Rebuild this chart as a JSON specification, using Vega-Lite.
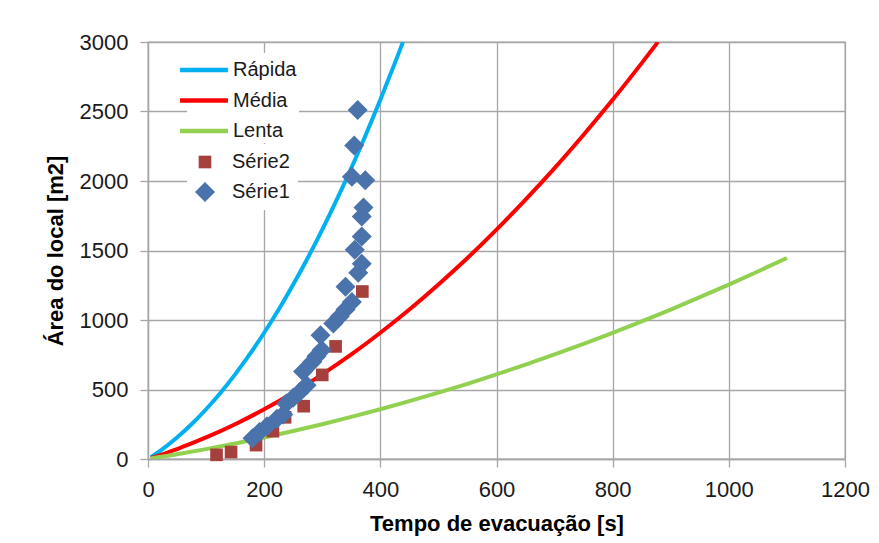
{
  "$schema": "https://vega.github.io/schema/vega-lite/v6.json",
  "width": 697,
  "height": 417,
  "autosize": "none",
  "padding": {"left": 148, "top": 42, "right": 34, "bottom": 84},
  "background": "white",
  "config": {
    "view": {"stroke": "#a6a6a6", "strokeWidth": 1.3},
    "font": "Liberation Sans",
    "axis": {
      "gridColor": "#a6a6a6",
      "gridWidth": 1.3,
      "domainColor": "#a6a6a6",
      "domainWidth": 1.3,
      "tickColor": "#a6a6a6",
      "tickWidth": 1.3,
      "tickSize": 8,
      "labelFont": "Liberation Sans",
      "labelFontSize": 22,
      "labelColor": "#1a1a1a",
      "titleFont": "Liberation Sans",
      "titleFontSize": 22,
      "titleFontWeight": "bold",
      "titleColor": "#000000"
    },
    "legend": {"labelFont": "Liberation Sans", "labelFontSize": 20, "labelColor": "#1a1a1a"}
  },
  "datasets": {
    "curves": [
      {"s": "Rápida", "t": 5, "a": 13},
      {"s": "Rápida", "t": 10, "a": 27},
      {"s": "Rápida", "t": 25, "a": 71},
      {"s": "Rápida", "t": 50, "a": 155},
      {"s": "Rápida", "t": 75, "a": 250},
      {"s": "Rápida", "t": 100, "a": 358},
      {"s": "Rápida", "t": 125, "a": 477},
      {"s": "Rápida", "t": 150, "a": 609},
      {"s": "Rápida", "t": 175, "a": 752},
      {"s": "Rápida", "t": 200, "a": 908},
      {"s": "Rápida", "t": 225, "a": 1075},
      {"s": "Rápida", "t": 250, "a": 1255},
      {"s": "Rápida", "t": 275, "a": 1446},
      {"s": "Rápida", "t": 300, "a": 1650},
      {"s": "Rápida", "t": 325, "a": 1866},
      {"s": "Rápida", "t": 350, "a": 2093},
      {"s": "Rápida", "t": 375, "a": 2333},
      {"s": "Rápida", "t": 400, "a": 2584},
      {"s": "Rápida", "t": 425, "a": 2848},
      {"s": "Rápida", "t": 439, "a": 3000},
      {"s": "Média", "t": 5, "a": 7},
      {"s": "Média", "t": 10, "a": 13},
      {"s": "Média", "t": 25, "a": 34},
      {"s": "Média", "t": 50, "a": 71},
      {"s": "Média", "t": 75, "a": 112},
      {"s": "Média", "t": 100, "a": 155},
      {"s": "Média", "t": 150, "a": 250},
      {"s": "Média", "t": 200, "a": 358},
      {"s": "Média", "t": 250, "a": 477},
      {"s": "Média", "t": 300, "a": 609},
      {"s": "Média", "t": 350, "a": 752},
      {"s": "Média", "t": 400, "a": 908},
      {"s": "Média", "t": 450, "a": 1075},
      {"s": "Média", "t": 500, "a": 1255},
      {"s": "Média", "t": 550, "a": 1446},
      {"s": "Média", "t": 600, "a": 1650},
      {"s": "Média", "t": 650, "a": 1866},
      {"s": "Média", "t": 700, "a": 2093},
      {"s": "Média", "t": 750, "a": 2333},
      {"s": "Média", "t": 800, "a": 2584},
      {"s": "Média", "t": 850, "a": 2848},
      {"s": "Média", "t": 878, "a": 3000},
      {"s": "Lenta", "t": 5, "a": 3},
      {"s": "Lenta", "t": 10, "a": 7},
      {"s": "Lenta", "t": 50, "a": 34},
      {"s": "Lenta", "t": 100, "a": 71},
      {"s": "Lenta", "t": 150, "a": 112},
      {"s": "Lenta", "t": 200, "a": 155},
      {"s": "Lenta", "t": 250, "a": 201},
      {"s": "Lenta", "t": 300, "a": 250},
      {"s": "Lenta", "t": 350, "a": 303},
      {"s": "Lenta", "t": 400, "a": 358},
      {"s": "Lenta", "t": 450, "a": 416},
      {"s": "Lenta", "t": 500, "a": 477},
      {"s": "Lenta", "t": 550, "a": 541},
      {"s": "Lenta", "t": 600, "a": 609},
      {"s": "Lenta", "t": 650, "a": 679},
      {"s": "Lenta", "t": 700, "a": 752},
      {"s": "Lenta", "t": 750, "a": 828},
      {"s": "Lenta", "t": 800, "a": 908},
      {"s": "Lenta", "t": 850, "a": 990},
      {"s": "Lenta", "t": 900, "a": 1075},
      {"s": "Lenta", "t": 950, "a": 1164},
      {"s": "Lenta", "t": 1000, "a": 1255},
      {"s": "Lenta", "t": 1050, "a": 1349},
      {"s": "Lenta", "t": 1100, "a": 1446}
    ],
    "points": [
      {"s": "Série2", "t": 118, "a": 30},
      {"s": "Série2", "t": 143, "a": 50},
      {"s": "Série2", "t": 186, "a": 100},
      {"s": "Série2", "t": 215, "a": 200},
      {"s": "Série2", "t": 236, "a": 300},
      {"s": "Série2", "t": 268, "a": 380},
      {"s": "Série2", "t": 300, "a": 605},
      {"s": "Série2", "t": 323, "a": 810},
      {"s": "Série2", "t": 369, "a": 1205},
      {"s": "Série1", "t": 180, "a": 150},
      {"s": "Série1", "t": 192, "a": 195},
      {"s": "Série1", "t": 205, "a": 235},
      {"s": "Série1", "t": 222, "a": 290},
      {"s": "Série1", "t": 233, "a": 320},
      {"s": "Série1", "t": 238, "a": 400},
      {"s": "Série1", "t": 250, "a": 440},
      {"s": "Série1", "t": 262, "a": 485},
      {"s": "Série1", "t": 273, "a": 530},
      {"s": "Série1", "t": 267, "a": 630},
      {"s": "Série1", "t": 283, "a": 700},
      {"s": "Série1", "t": 290, "a": 740},
      {"s": "Série1", "t": 299, "a": 785},
      {"s": "Série1", "t": 297, "a": 890},
      {"s": "Série1", "t": 319, "a": 975},
      {"s": "Série1", "t": 330, "a": 1025},
      {"s": "Série1", "t": 340, "a": 1075},
      {"s": "Série1", "t": 351, "a": 1130},
      {"s": "Série1", "t": 340, "a": 1240},
      {"s": "Série1", "t": 362, "a": 1340},
      {"s": "Série1", "t": 368, "a": 1405},
      {"s": "Série1", "t": 356, "a": 1505},
      {"s": "Série1", "t": 368, "a": 1600},
      {"s": "Série1", "t": 368, "a": 1745},
      {"s": "Série1", "t": 371, "a": 1810},
      {"s": "Série1", "t": 351, "a": 2030},
      {"s": "Série1", "t": 374, "a": 2005},
      {"s": "Série1", "t": 355, "a": 2255},
      {"s": "Série1", "t": 361, "a": 2510}
    ]
  },
  "encoding": {
    "x": {
      "field": "t", "type": "quantitative",
      "scale": {"domain": [0, 1200], "nice": false},
      "axis": {"title": "Tempo de evacuação [s]", "format": "d", "values": [0, 200, 400, 600, 800, 1000, 1200], "labelFlush": false, "labelPadding": 12, "titlePadding": 13}
    },
    "y": {
      "field": "a", "type": "quantitative",
      "scale": {"domain": [0, 3000], "nice": false},
      "axis": {"title": "Área do local [m2]", "format": "d", "values": [0, 500, 1000, 1500, 2000, 2500, 3000], "labelPadding": 12, "titlePadding": 12}
    }
  },
  "layer": [
    {
      "data": {"name": "curves"},
      "mark": {"type": "line", "strokeWidth": 4, "interpolate": "monotone", "clip": true},
      "encoding": {
        "stroke": {
          "field": "s", "type": "nominal",
          "scale": {"domain": ["Rápida", "Média", "Lenta"], "range": ["#00b0f0", "#ff0000", "#92d050"]},
          "legend": {
            "title": null, "orient": "none", "legendX": 39, "legendY": 11,
            "padding": 2, "fillColor": "white",
            "symbolType": "M-1.88,0H1.88", "symbolSize": 650, "symbolStrokeWidth": 4.5,
            "labelOffset": 14, "rowPadding": 5.5
          }
        }
      }
    },
    {
      "data": {"name": "points"},
      "mark": {"type": "point", "filled": true, "opacity": 1, "strokeWidth": 0},
      "encoding": {
        "shape": {
          "field": "s", "type": "nominal",
          "scale": {"domain": ["Série2", "Série1"], "range": ["square", "diamond"]},
          "legend": {
            "title": null, "orient": "none", "legendX": 39, "legendY": 102,
            "padding": 8, "fillColor": "white",
            "symbolSize": 200, "symbolStrokeWidth": 0,
            "labelOffset": 17, "rowPadding": 10
          }
        },
        "color": {
          "field": "s", "type": "nominal",
          "scale": {"domain": ["Série2", "Série1"], "range": ["#a5403d", "#4a72ab"]},
          "legend": {
            "title": null, "orient": "none", "legendX": 39, "legendY": 102,
            "padding": 8, "fillColor": "white",
            "symbolSize": 200, "symbolStrokeWidth": 0,
            "labelOffset": 17, "rowPadding": 10
          }
        },
        "size": {
          "field": "s", "type": "nominal",
          "scale": {"domain": ["Série2", "Série1"], "range": [160, 400]},
          "legend": null
        }
      }
    }
  ]
}
